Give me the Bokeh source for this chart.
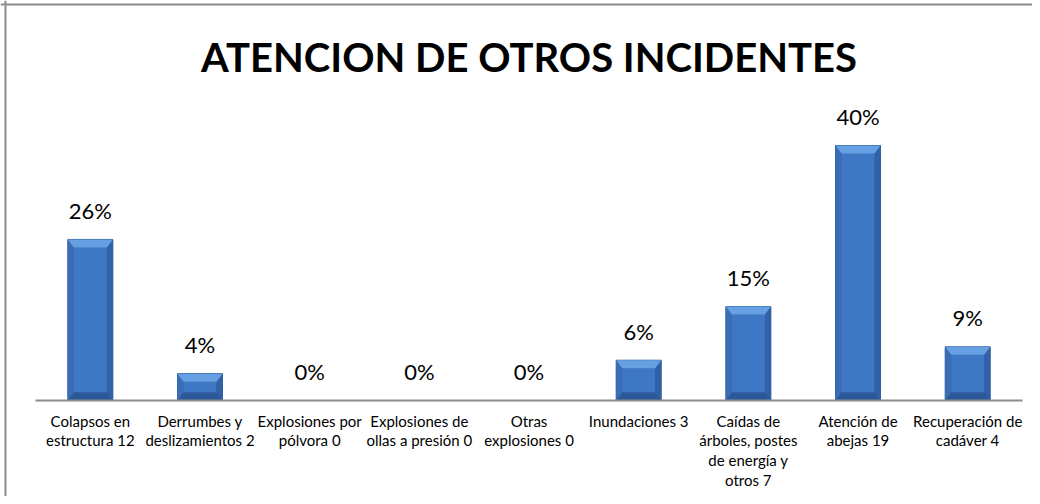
from bokeh.plotting import figure
from bokeh.models import Range1d, Span
from bokeh.core.properties import value
from bokeh.embed import file_html
from bokeh.resources import INLINE
import numpy as np

# ---- data ----
categories = [
    "Colapsos en\nestructura 12",
    "Derrumbes y\ndeslizamientos 2",
    "Explosiones por\npólvora 0",
    "Explosiones de\nollas a presión 0",
    "Otras\nexplosiones 0",
    "Inundaciones 3",
    "Caídas de\nárboles, postes\nde energía y\notros 7",
    "Atención de\nabejas 19",
    "Recuperación de\ncadáver 4",
]
counts = [12, 2, 0, 0, 0, 3, 7, 19, 4]
pct_labels = ["26%", "4%", "0%", "0%", "0%", "6%", "15%", "40%", "9%"]
title_text = "ATENCION DE OTROS INCIDENTES"

# ---- layout constants (pixels) ----
W, H = 1032, 496
PX_X = 109.67   # pixels per category
PX_Y = 13.42    # pixels per count unit
LEFT_PAD = 35
TOP_PAD = 400   # from frame top to baseline

n = len(categories)
x0 = -0.5 - LEFT_PAD / PX_X
x1 = x0 + W / PX_X
y1 = TOP_PAD / PX_Y
y0 = y1 - H / PX_Y

p = figure(width=W, height=H, x_range=Range1d(x0, x1), y_range=Range1d(y0, y1),
           x_axis_type=None, y_axis_type=None, toolbar_location=None,
           output_backend="svg", min_border=0)
p.grid.visible = False
p.outline_line_color = None
p.background_fill_color = "white"
p.border_fill_color = "white"

xs = np.arange(n, dtype=float)
vals = np.array(counts, dtype=float)

# bars with bevel look
bw = 45 / PX_X
e = 6 / PX_X
dpx = 8 / PX_Y
has = vals > 0
xb = xs[has]
vb = vals[has]
depth = np.minimum(dpx, vb / 2)

p.vbar(x=xb, top=vb, bottom=0, width=bw, fill_color="#3466ad", line_color="#2d5c9e", line_width=1)
p.vbar(x=xb, top=vb - depth, bottom=depth, width=bw - 2 * e, fill_color="#3e78c4", line_color=None)
# side bevels
lx = [[x - bw / 2, x - bw / 2 + e, x - bw / 2 + e, x - bw / 2] for x in xb]
ly = [[v, v - d, d, 0] for v, d in zip(vb, depth)]
p.patches(lx, ly, fill_color="#3a6db5", line_color=None)
rx = [[x + bw / 2, x + bw / 2 - e, x + bw / 2 - e, x + bw / 2] for x in xb]
p.patches(rx, ly, fill_color="#3161a6", line_color=None)
# top bevel (light)
tx = [[x - bw / 2, x + bw / 2, x + bw / 2 - e, x - bw / 2 + e] for x in xb]
ty = [[v, v, v - d, v - d] for v, d in zip(vb, depth)]
p.patches(tx, ty, fill_color="#67a0e2", line_color=None)
# bottom bevel (dark)
by = [[0, 0, d, d] for d in depth]
p.patches(tx, by, fill_color="#2c5898", line_color=None)

# axis line
p.line([-0.5, n - 0.5], [0, 0], line_color="#8c8c8c", line_width=2)

# percent labels
p.text(x=xs, y=vals + 29 / PX_Y, text=pct_labels, text_align="center",
       text_baseline="alphabetic", text_font=value("Lato"), text_font_size="22px",
       text_color="#000000")

# category labels
p.text(x=xs, y=np.full(n, -11 / PX_Y), text=categories, text_align="center",
       text_baseline="top", text_font=value("Lato"), text_font_size="15px",
       text_color="#000000", text_line_height=1.11)

# title
p.text(x=[(n - 1) / 2], y=[y1 - 56 / PX_Y], text=[title_text], text_align="center",
       text_baseline="alphabetic", text_font=value("Lato"), text_font_size="40px",
       text_font_style="bold", text_color="#000000")

# chart border (left & top visible)
p.add_layout(Span(location=x0 + 5 / PX_X, dimension="height", line_color="#8c8c8c", line_width=2))
p.add_layout(Span(location=y1 - 4 / PX_Y, dimension="width", line_color="#8c8c8c", line_width=2))

open("out.html", "w").write(file_html(p, INLINE))
